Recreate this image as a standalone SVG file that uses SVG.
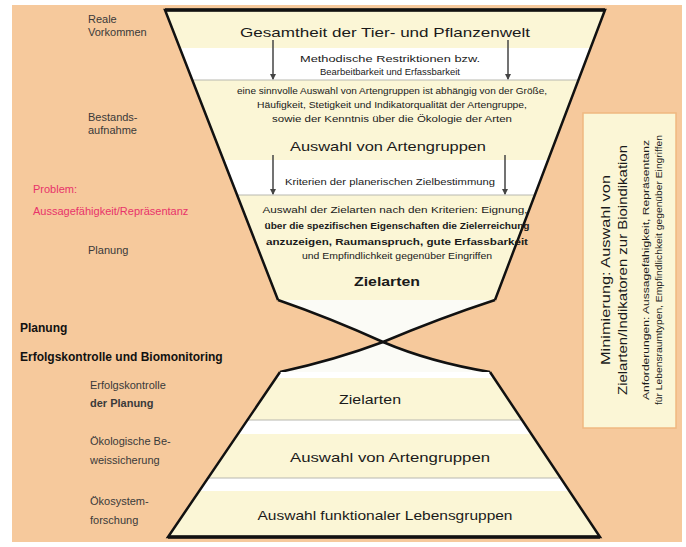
<svg xmlns="http://www.w3.org/2000/svg" width="686" height="547" viewBox="0 0 686 547">
<defs>
<style>
text{font-family:"Liberation Sans",Arial,sans-serif;fill:#1a1a1a}
.lab{font-size:11px;fill:#3a3a3a}
.red{font-size:11px;fill:#e8336a}
.bold{font-size:12px;font-weight:bold;fill:#111}
.t{font-size:13px;text-anchor:middle}
.s{font-size:9px;text-anchor:middle}
.edge{fill:none;stroke:#111;stroke-width:2.5;stroke-linejoin:miter}
.arr{stroke:#444;stroke-width:1.5;fill:none;marker-end:url(#ah)}
.band{fill:#fbf6d6}
.wb{fill:#ffffff}
.sep{stroke:#b8b8b0;stroke-width:1}
</style>
<marker id="ah" markerWidth="6" markerHeight="6" refX="5" refY="3" orient="auto" markerUnits="userSpaceOnUse">
<path d="M0,0 L6,3 L0,6 Z" fill="#444"/>
</marker>
<clipPath id="topc"><polygon points="165,10 605,10 495,300 278,300"/></clipPath>
<clipPath id="botc"><polygon points="280,372 490,372 600,537 168,537"/></clipPath>
</defs>
<rect x="0" y="0" width="686" height="547" fill="#ffffff"/>
<rect x="12" y="5" width="670" height="537" fill="#f6c99c"/>

<g id="top-funnel">
<g clip-path="url(#topc)">
<rect x="160" y="10" width="450" height="290" class="band"/>
<rect x="160" y="48" width="450" height="32" class="wb"/>
<rect x="160" y="160" width="450" height="35" class="wb"/>
<line x1="160" y1="80" x2="610" y2="80" class="sep"/>
<line x1="160" y1="195" x2="610" y2="195" class="sep"/>
</g>
<polyline points="278,300 165,10 605,10 495,300" class="edge"/>
<line x1="165" y1="10" x2="605" y2="10" stroke="#111" stroke-width="3.5"/>
<text x="385" y="37" class="t" font-size="14" textLength="290" lengthAdjust="spacingAndGlyphs">Gesamtheit der Tier- und Pflanzenwelt</text>
<text x="390" y="62" class="s" font-size="10" textLength="180" lengthAdjust="spacingAndGlyphs">Methodische Restriktionen bzw.</text>
<text x="390" y="75" class="s" font-size="10" textLength="140" lengthAdjust="spacingAndGlyphs">Bearbeitbarkeit und Erfassbarkeit</text>
<text x="392" y="94" class="s" textLength="310" lengthAdjust="spacingAndGlyphs">eine sinnvolle Auswahl von Artengruppen ist abhängig von der Größe,</text>
<text x="392" y="108" class="s" textLength="270" lengthAdjust="spacingAndGlyphs">Häufigkeit, Stetigkeit und Indikatorqualität der Artengruppe,</text>
<text x="392" y="122" class="s" textLength="240" lengthAdjust="spacingAndGlyphs">sowie der Kenntnis über die Ökologie der Arten</text>
<text x="388" y="151" class="t" textLength="196" lengthAdjust="spacingAndGlyphs">Auswahl von Artengruppen</text>
<text x="390" y="185" class="s" font-size="10" textLength="210" lengthAdjust="spacingAndGlyphs">Kriterien der planerischen Zielbestimmung</text>
<text x="395" y="213" class="s" textLength="265" lengthAdjust="spacingAndGlyphs">Auswahl der Zielarten nach den Kriterien: Eignung,</text>
<text x="397" y="229" class="s" font-weight="bold" textLength="265" lengthAdjust="spacingAndGlyphs">über die spezifischen Eigenschaften die Zielerreichung</text>
<text x="397" y="245" class="s" font-weight="bold" textLength="262" lengthAdjust="spacingAndGlyphs">anzuzeigen, Raumanspruch, gute Erfassbarkeit</text>
<text x="397" y="259" class="s" textLength="190" lengthAdjust="spacingAndGlyphs">und Empfindlichkeit gegenüber Eingriffen</text>
<text x="387" y="286" class="t" font-weight="bold" textLength="66" lengthAdjust="spacingAndGlyphs">Zielarten</text>
</g>

<g id="neck">
<path d="M278,300 L495,300 Q440,318 383,342 Q330,318 278,300 Z" fill="#fbfbf6"/>
<path d="M383,342 Q430,362 490,372 L280,372 Q335,360 383,342 Z" fill="#fbfbf6"/>
<path d="M278,300 Q330,318 383,342 Q430,362 490,372" class="edge"/>
<path d="M495,300 Q440,318 383,342 Q335,360 280,372" class="edge"/>
</g>

<g id="bottom-funnel">
<g clip-path="url(#botc)">
<rect x="160" y="372" width="450" height="170" class="wb"/>
<rect x="160" y="378" width="450" height="42" class="band"/>
<rect x="160" y="434" width="450" height="44" class="band"/>
<rect x="160" y="491" width="450" height="46" class="band"/>
<line x1="160" y1="420" x2="610" y2="420" class="sep"/>
<line x1="160" y1="478" x2="610" y2="478" class="sep"/>
</g>
<polyline points="280,372 168,537 600,537 490,372" class="edge"/>
<line x1="168" y1="537" x2="600" y2="537" stroke="#111" stroke-width="3.5"/>
<text x="370" y="404" class="t" textLength="62" lengthAdjust="spacingAndGlyphs">Zielarten</text>
<text x="390" y="462" class="t" textLength="200" lengthAdjust="spacingAndGlyphs">Auswahl von Artengruppen</text>
<text x="385" y="520" class="t" textLength="255" lengthAdjust="spacingAndGlyphs">Auswahl funktionaler Lebensgruppen</text>
</g>

<g id="connectors">
<line x1="273" y1="40" x2="273" y2="79" class="arr"/>
<line x1="508" y1="40" x2="508" y2="79" class="arr"/>
<line x1="273" y1="155" x2="273" y2="194" class="arr"/>
<line x1="505" y1="155" x2="505" y2="194" class="arr"/>
</g>

<g id="labels">
<text x="88" y="23" class="lab">Reale</text>
<text x="88" y="36" class="lab">Vorkommen</text>
<text x="88" y="121" class="lab">Bestands-</text>
<text x="88" y="134" class="lab">aufnahme</text>
<text x="33" y="193" class="red">Problem:</text>
<text x="33" y="215" class="red">Aussagefähigkeit/Repräsentanz</text>
<text x="88" y="254" class="lab">Planung</text>
<text x="20" y="332" class="bold">Planung</text>
<text x="20" y="361" class="bold">Erfolgskontrolle und Biomonitoring</text>
<text x="90" y="389" class="lab">Erfolgskontrolle</text>
<text x="90" y="407" class="lab" font-weight="bold">der Planung</text>
<text x="90" y="445" class="lab">Ökologische Be-</text>
<text x="90" y="464" class="lab">weissicherung</text>
<text x="90" y="505" class="lab">Ökosystem-</text>
<text x="90" y="524" class="lab">forschung</text>
</g>

<g id="right-box">
<rect x="583" y="113" width="93" height="315" fill="#fbf6d6" stroke="#f0b880" stroke-width="1.5"/>
<g transform="translate(0,270) rotate(-90)">
<text x="0" y="610" class="t" font-size="12" textLength="190" lengthAdjust="spacingAndGlyphs">Minimierung: Auswahl von</text>
<text x="0" y="627" class="t" font-size="12" textLength="250" lengthAdjust="spacingAndGlyphs">Zielarten/Indikatoren zur Bioindikation</text>
<text x="0" y="649" class="s" textLength="260" lengthAdjust="spacingAndGlyphs">Anforderungen: Aussagefähigkeit, Repräsentanz</text>
<text x="0" y="662" class="s" textLength="270" lengthAdjust="spacingAndGlyphs">für Lebensraumtypen, Empfindlichkeit gegenüber Eingriffen</text>
</g>
</g>
</svg>
